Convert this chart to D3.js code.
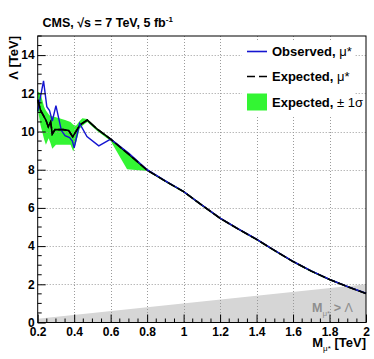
<!DOCTYPE html>
<html>
<head>
<meta charset="utf-8">
<script src="https://cdn.jsdelivr.net/npm/d3@7"></script>
<style>
  body { margin: 0; background: #fff; }
  svg text { font-family: "Liberation Sans", Arial, sans-serif; font-weight: bold; }
</style>
</head>
<body>
<svg id="chart" width="374" height="359"></svg>
<script>
// Observed limit (mass in TeV, Lambda in TeV)
var obsMass = [0.2, 0.232, 0.25, 0.265, 0.28, 0.3, 0.315, 0.33, 0.35, 0.375, 0.39, 0.4, 0.43, 0.47, 0.535, 0.6,
  0.7, 0.8, 0.9, 1.0, 1.1, 1.2, 1.3, 1.4, 1.5, 1.6, 1.7, 1.8, 1.9, 2.0];
var obsLambda = [11.05, 12.65, 11.3, 11.1, 10.55, 11.35, 10.7, 10.05, 9.78, 9.68, 9.5, 9.15, 10.42, 9.73, 9.25, 9.6,
  8.86, 8.0, 7.42, 6.86, 6.15, 5.47, 4.9, 4.36, 3.77, 3.2, 2.7, 2.26, 1.88, 1.53];

// Expected limit
var expMass = [0.2, 0.216, 0.245, 0.258, 0.271, 0.28, 0.295, 0.34, 0.37, 0.392, 0.432, 0.472, 0.523, 0.6,
  0.7, 0.8, 0.9, 1.0, 1.1, 1.2, 1.3, 1.4, 1.5, 1.6, 1.7, 1.8, 1.9, 2.0];
var expLambda = [11.66, 11.1, 10.6, 10.25, 10.5, 9.87, 10.1, 10.1, 10.05, 9.72, 10.35, 10.6, 10.15, 9.6,
  8.8, 7.98, 7.4, 6.85, 6.14, 5.46, 4.89, 4.35, 3.76, 3.19, 2.69, 2.25, 1.87, 1.52];

// Expected +-1 sigma band
var bandMass = [0.2, 0.215, 0.235, 0.245, 0.26, 0.27, 0.28, 0.3, 0.35, 0.38, 0.395, 0.41, 0.43, 0.445, 0.472, 0.523, 0.6,
  0.69, 0.8, 0.9, 1.0, 1.1, 1.2, 1.3, 1.4, 1.5, 1.6, 1.7, 1.8, 1.9, 2.0];
var bandHigh = [12.1, 12.0, 11.3, 11.1, 10.9, 10.8, 10.8, 10.75, 10.6, 10.5, 10.35, 10.3, 10.55, 10.7, 10.65, 10.2, 9.65,
  8.92, 8.02, 7.45, 6.9, 6.19, 5.5, 4.93, 4.39, 3.8, 3.23, 2.73, 2.29, 1.91, 1.56];
var bandLow = [11.2, 10.35, 9.6, 9.3, 9.65, 9.4, 9.1, 9.3, 9.3, 9.3, 8.95, 9.4, 10.15, 10.3, 10.5, 10.05, 9.5,
  8.03, 7.93, 7.36, 6.81, 6.1, 5.42, 4.85, 4.31, 3.72, 3.15, 2.65, 2.21, 1.84, 1.49];

// Excluded region M > Lambda (end points of the diagonal)
var diagMass = [0.2, 2.0];

// Axis ticks
var xTicks = [0.2, 0.4, 0.6, 0.8, 1, 1.2, 1.4, 1.6, 1.8, 2];
var yTicks = [0, 2, 4, 6, 8, 10, 12, 14];

var svg = d3.select("#chart");
var padL = 37.7, padR = 366, padT = 36, padB = 322.5;

var x = d3.scaleLinear().domain([0.2, 2]).range([padL, padR]);
var y = d3.scaleLinear().domain([0, 15]).range([padB, padT]);

// Grey region where M > Lambda
var diag = diagMass.map(m => [m, m]);
svg.append("path")
  .datum(diag)
  .attr("fill", "#d6d6d6")
  .attr("d", d3.area().x(d => x(d[0])).y0(y(0)).y1(d => y(d[1])));

// Green band
var band = bandMass.map((m, i) => ({m: m, lo: bandLow[i], hi: bandHigh[i]}));
svg.append("path")
  .datum(band)
  .attr("fill", "#33f533")
  .attr("d", d3.area().x(d => x(d.m)).y0(d => y(d.lo)).y1(d => y(d.hi)));

// Dotted grid
var grid = svg.append("g").attr("stroke", "#9a9a9a").attr("stroke-width", 1).attr("stroke-dasharray", "1,2");
grid.selectAll(".gx").data(xTicks.slice(1, -1)).enter().append("line")
  .attr("x1", d => Math.round(x(d)) + 0.5).attr("x2", d => Math.round(x(d)) + 0.5)
  .attr("y1", padT).attr("y2", padB);
grid.selectAll(".gy").data(yTicks.slice(1)).enter().append("line")
  .attr("y1", d => Math.round(y(d)) + 0.5).attr("y2", d => Math.round(y(d)) + 0.5)
  .attr("x1", padL).attr("x2", padR);

// Limit curves
var line = d3.line().x(d => x(d[0])).y(d => y(d[1]));
svg.append("path")
  .datum(expMass.map((m, i) => [m, expLambda[i]]))
  .attr("fill", "none").attr("stroke", "#000").attr("stroke-width", 1.6)
  .attr("d", line);
svg.append("path")
  .datum(obsMass.map((m, i) => [m, obsLambda[i]]))
  .attr("fill", "none").attr("stroke", "#1515d0").attr("stroke-width", 1.4)
  .attr("d", line);
svg.append("path")
  .datum(expMass.map((m, i) => [m, expLambda[i]]))
  .attr("fill", "none").attr("stroke", "#000").attr("stroke-width", 1.6)
  .attr("stroke-dasharray", "8,3")
  .attr("d", line);

// Label inside the excluded region
var excl = svg.append("text").attr("x", 312).attr("y", 312).attr("fill", "#8e8e8e").style("font-size", "12.5px");
excl.append("tspan").text("M");
excl.append("tspan").attr("dy", 4).style("font-size", "8px").style("font-weight", "normal").text("μ*");
excl.append("tspan").attr("dy", -4).text(" > ");
excl.append("tspan").style("font-weight", "normal").text("Λ");

// Axes with ticks pointing inward
var yAxis = d3.axisLeft(y).tickValues(yTicks).tickSizeInner(-8).tickSizeOuter(0).tickPadding(3).tickFormat(d3.format("d"));
var xAxis = d3.axisBottom(x).tickValues(xTicks).tickSizeInner(-8).tickSizeOuter(0).tickPadding(5).tickFormat(d3.format("~g"));

var gy = svg.append("g").attr("transform", "translate(" + padL + ",0)").call(yAxis);
var gx = svg.append("g").attr("transform", "translate(0," + padB + ")").call(xAxis);
[gx, gy].forEach(g => {
  g.select(".domain").remove();
  g.selectAll("line").attr("stroke", "#000");
  g.selectAll("text").attr("fill", "#000").style("font-size", "12px");
});

// Minor ticks
svg.append("g").selectAll("line")
  .data(d3.range(0, 15.01, 0.5).filter(v => v % 2 !== 0))
  .enter().append("line")
  .attr("x1", padL).attr("x2", padL + 4)
  .attr("y1", d => y(d)).attr("y2", d => y(d))
  .attr("stroke", "#000");
svg.append("g").selectAll("line")
  .data(d3.range(0.2, 2.001, 0.05).filter(v => Math.abs(v * 5 - Math.round(v * 5)) > 0.01))
  .enter().append("line")
  .attr("y1", padB).attr("y2", padB - 4)
  .attr("x1", d => x(d)).attr("x2", d => x(d))
  .attr("stroke", "#000");

// Frame
svg.append("rect")
  .attr("x", padL).attr("y", padT)
  .attr("width", padR - padL).attr("height", padB - padT)
  .attr("fill", "none").attr("stroke", "#000").attr("stroke-width", 1);

// Legend
var legend = svg.append("g");
legend.append("rect").attr("x", 242).attr("y", 40).attr("width", 113).attr("height", 76).attr("fill", "#fff");
var legendRows = [
  {label: "Observed, ", kind: "obs", y: 51.5},
  {label: "Expected, ", kind: "exp", y: 76.5},
  {label: "Expected, ", kind: "band", y: 102}
];
legendRows.forEach(r => {
  if (r.kind === "obs") {
    legend.append("line").attr("x1", 247).attr("x2", 267).attr("y1", r.y).attr("y2", r.y)
      .attr("stroke", "#1515d0").attr("stroke-width", 1.6);
  } else if (r.kind === "exp") {
    legend.append("line").attr("x1", 247).attr("x2", 267).attr("y1", r.y).attr("y2", r.y)
      .attr("stroke", "#000").attr("stroke-width", 1.6).attr("stroke-dasharray", "8,4");
  } else {
    legend.append("rect").attr("x", 247).attr("y", r.y - 8.5).attr("width", 20).attr("height", 17)
      .attr("fill", "#33f533");
  }
  var t = legend.append("text").attr("x", 272).attr("y", r.y + 4.5).style("font-size", "13px").attr("fill", "#000");
  t.append("tspan").text(r.label);
  if (r.kind === "band") {
    t.append("tspan").style("font-weight", "normal").text("± 1σ");
  } else {
    t.append("tspan").style("font-weight", "normal").text("μ*");
  }
});

// Title
var title = svg.append("text").attr("x", 42.5).attr("y", 26.5).style("font-size", "12.5px").attr("fill", "#000");
title.append("tspan").text("CMS, √s = 7 TeV, 5 fb");
title.append("tspan").attr("dy", -5).style("font-size", "8px").text("-1");

// Axis titles
svg.append("text")
  .attr("transform", "translate(18," + padT + ") rotate(-90)")
  .attr("text-anchor", "end")
  .style("font-size", "13px")
  .text("Λ [TeV]");

var xt = svg.append("text").attr("x", padR).attr("y", 347).attr("text-anchor", "end").style("font-size", "13px");
xt.append("tspan").text("M");
xt.append("tspan").attr("dy", 4).style("font-size", "8px").style("font-weight", "normal").text("μ*");
xt.append("tspan").attr("dy", -4).text(" [TeV]");
</script>
</body>
</html>
